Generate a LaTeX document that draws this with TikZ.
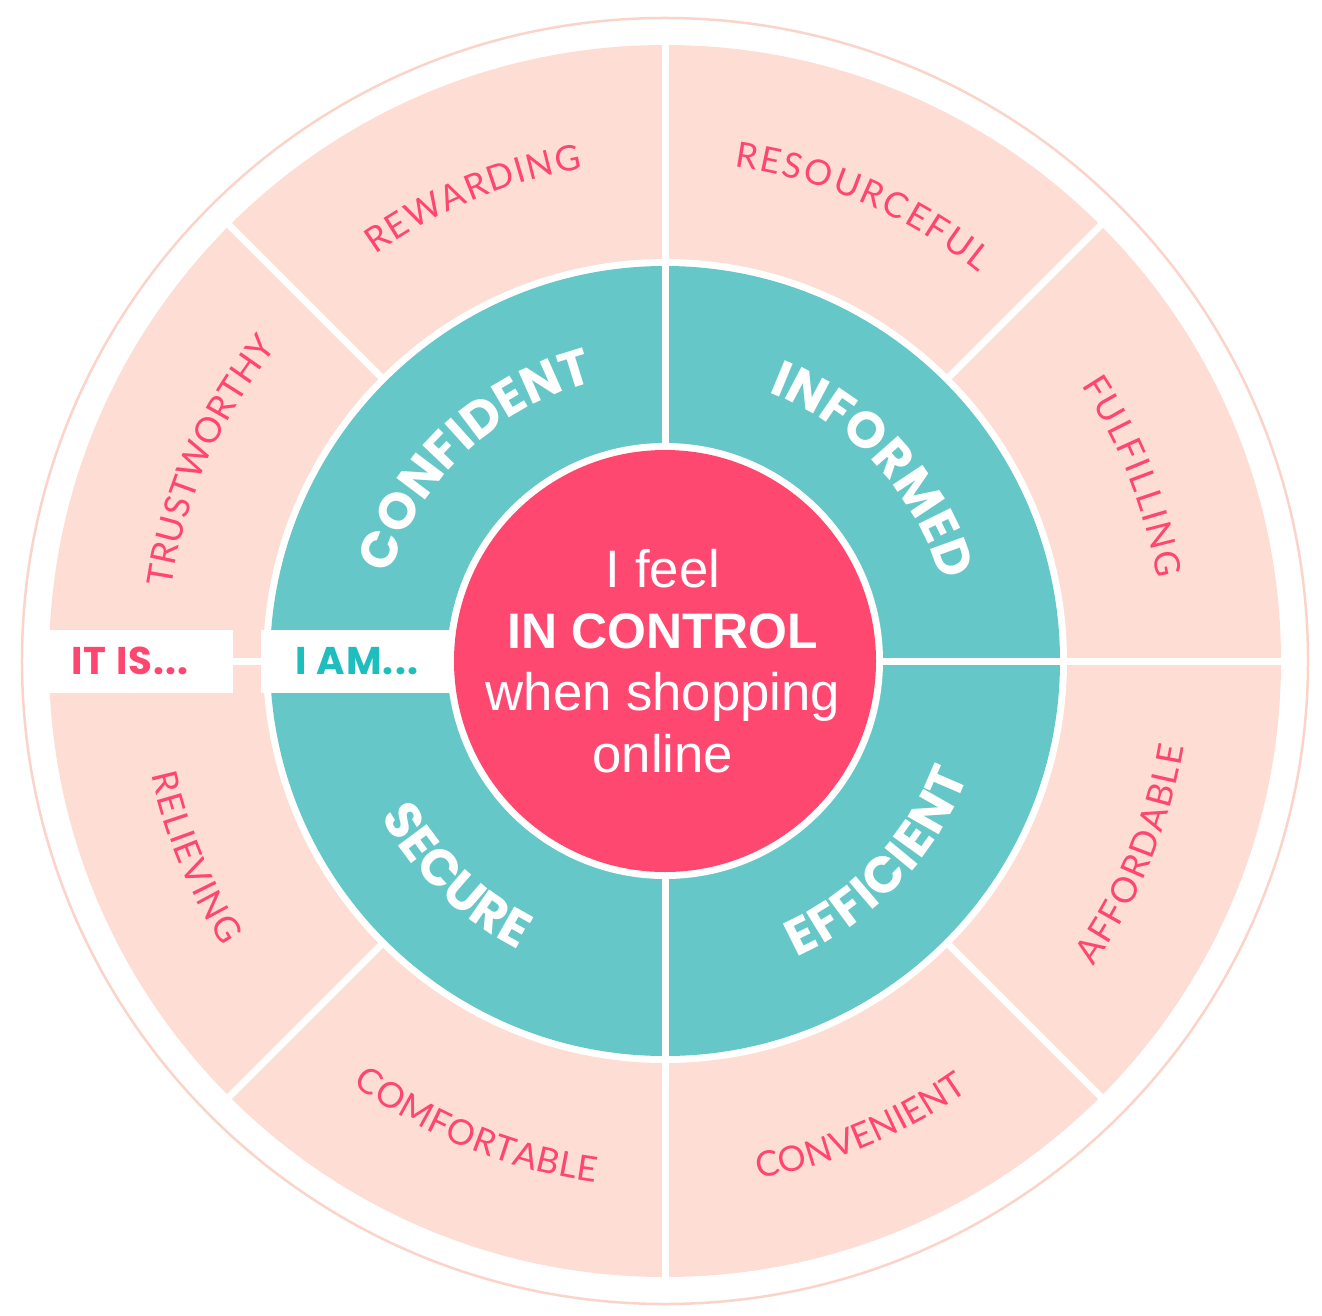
\documentclass[tikz,border=0pt]{standalone}
\usepackage{fontspec}
\usetikzlibrary{decorations.text}
\newfontfamily\bodyfont{Liberation Sans}
\newfontfamily\wordfont{Lato}
\newfontfamily\capsfont{Poppins}
\definecolor{ringpeach}{HTML}{FDDDD4}
\definecolor{rimpeach}{HTML}{FBD4C9}
\definecolor{ringteal}{HTML}{66C7C8}
\definecolor{hubred}{HTML}{FF4870}
\definecolor{wordpink}{HTML}{FF4670}
\definecolor{wordteal}{HTML}{1FBEBE}
\tikzset{
  divider/.style={white, line width=0.7mm},
  outerword/.style={decorate, decoration={text along path, text align=fit to path,
    text color=wordpink, text={|\wordfont\fontsize{10}{12}\selectfont|#1}}},
  innerword/.style={decorate, decoration={text along path, text align=fit to path,
    text color=white, text={|\capsfont\bfseries\fontsize{14.5}{17}\selectfont|#1}}},
  tagbox/.style={fill=white, minimum height=6.3mm, inner sep=0pt,
    font=\capsfont\bfseries\fontsize{11}{13}\selectfont\addfontfeature{LetterSpace=3}},
  hubline/.style={white, anchor=base, font=\bodyfont\fontsize{15}{18}\selectfont},
}

\begin{document}
\begin{tikzpicture}[x=0.1mm, y=0.1mm]
\useasboundingbox (-665,-654) rectangle (657,661);
\fill[white] (-665,-654) rectangle (657,661);

% rings
\draw[rimpeach, line width=0.25mm] (0,0) circle[radius=643];
\fill[ringpeach] (0,0) circle[radius=616];
\fill[white] (0,0) circle[radius=402];
\fill[ringteal] (0,0) circle[radius=395];

% spokes
\foreach \a in {45,135,225,315}
  \draw[divider] (\a:398) -- (\a:620);
\foreach \a in {0,90,180,270}
  \draw[divider] (\a:205) -- (\a:620);

% tags on the left spoke
\node (itis) [tagbox, text=wordpink, minimum width=20.6mm] at (-535,0) {IT IS...};
\node (iam) [tagbox, text=wordteal, minimum width=19.2mm] at (-308,0) {I AM...};

% hub
\fill[white] (0,0) circle[radius=218];
\fill[hubred] (0,0) circle[radius=211];
\node (feel) [hubline] at (-2,74) {I feel};
\node (ctrl) [hubline, font=\bodyfont\bfseries\fontsize{14.2}{17}\selectfont] at (-2,13) {IN CONTROL};
\node (shop) [hubline] at (-2,-49) {when shopping};
\node (online) [hubline] at (-2,-111) {online};

% inner ring words
\path[innerword=CONFIDENT] (162.5:288) arc[start angle=162.5, end angle=105.5, radius=288];
\path[innerword=INFORMED] (69:288) arc[start angle=69, end angle=17.5, radius=288];
\path[innerword=SECURE] (208.7:324) arc[start angle=208.7, end angle=241.5, radius=324];
\path[innerword=EFFICIENT] (294:324) arc[start angle=294, end angle=339.3, radius=324];

% outer ring words
\path[outerword=REWARDING] (125.5:499) arc[start angle=125.5, end angle=99.5, radius=499];
\path[outerword=RESOURCEFUL] (82:499) arc[start angle=82, end angle=51, radius=499];
\path[outerword=FULFILLING] (33.5:499) arc[start angle=33.5, end angle=9.5, radius=499];
\path[outerword=TRUSTWORTHY] (171.5:499) arc[start angle=171.5, end angle=141, radius=499];
\path[outerword=RELIEVING] (192.5:526) arc[start angle=192.5, end angle=212.8, radius=526];
\path[outerword=COMFORTABLE] (233.6:526) arc[start angle=233.6, end angle=262.4, radius=526];
\path[outerword=CONVENIENT] (280.2:526) arc[start angle=280.2, end angle=305.3, radius=526];
\path[outerword=AFFORDABLE] (324.5:526) arc[start angle=324.5, end angle=350.6, radius=526];

\end{tikzpicture}
\end{document}
